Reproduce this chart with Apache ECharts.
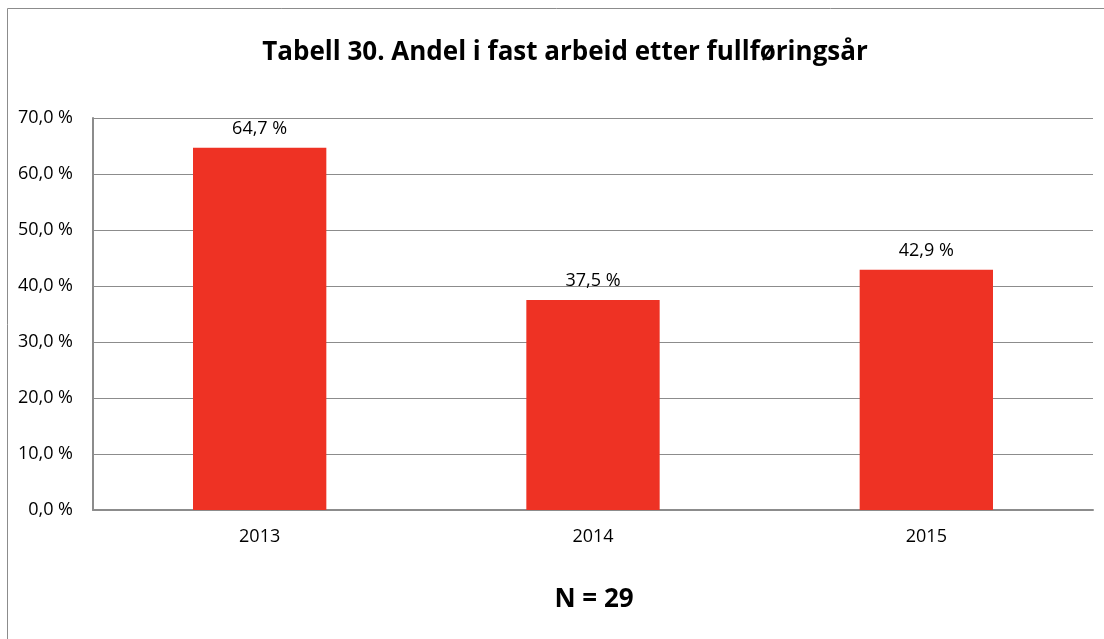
<!DOCTYPE html>
<html>
<head>
    <meta charset="utf-8">
    <title>Tabell 30</title>
    <script src="https://cdn.jsdelivr.net/npm/echarts@6/dist/echarts.min.js"></script>
    <style>
        html, body { margin: 0; padding: 0; background: #ffffff; }
        #chart { width: 1104px; height: 639px; }
    </style>
</head>
<body>
    <div id="chart"></div>
    <script>
        // data
        const years = ['2013', '2014', '2015'];
        const andel = [64.7, 37.5, 42.9];
        const titleText = 'Tabell 30. Andel i fast arbeid etter fullføringsår';
        const noteText = 'N = 29';

        const fmt = v => v.toFixed(1).replace('.', ',') + ' %';

        var chart = echarts.init(document.getElementById('chart'));
        var option = {
            animation: false,
            textStyle: { fontFamily: 'Open Sans' },
            title: {
                text: titleText,
                left: 560,
                top: 35,
                textAlign: 'center',
                textStyle: { fontSize: 26, fontWeight: 'bold', color: '#000', fontFamily: 'Open Sans' }
            },
            graphic: [
                {
                    type: 'rect',
                    shape: { x: 7.5, y: 8.5, width: 1120, height: 660 },
                    style: { fill: 'none', stroke: '#8c8c8c', lineWidth: 1 }
                },
                {
                    type: 'text',
                    x: 594,
                    y: 600,
                    style: {
                        text: noteText, fontSize: 26, fontWeight: 'bold', fill: '#000',
                        fontFamily: 'Open Sans', align: 'center', verticalAlign: 'middle'
                    }
                }
            ],
            grid: { left: 93, right: 11, top: 118, bottom: 129 },
            xAxis: {
                type: 'category',
                data: years,
                axisLine: { lineStyle: { color: '#8c8c8c', width: 2 } },
                axisTick: { show: false },
                axisLabel: { color: '#000', fontSize: 18, margin: 18 }
            },
            yAxis: {
                type: 'value',
                min: 0,
                max: 70,
                interval: 10,
                axisLine: { show: true, lineStyle: { color: '#8c8c8c', width: 2 } },
                axisTick: { show: false },
                splitLine: { lineStyle: { color: '#8c8c8c', width: 1 } },
                axisLabel: { color: '#000', fontSize: 18, margin: 20, formatter: v => fmt(v) }
            },
            series: [{
                type: 'bar',
                data: andel,
                barWidth: '40%',
                itemStyle: { color: '#ee3224' },
                label: {
                    show: true,
                    position: 'top',
                    distance: 10,
                    color: '#000',
                    fontSize: 18,
                    formatter: p => fmt(p.value)
                }
            }]
        };
        chart.setOption(option);
    </script>
</body>
</html>
